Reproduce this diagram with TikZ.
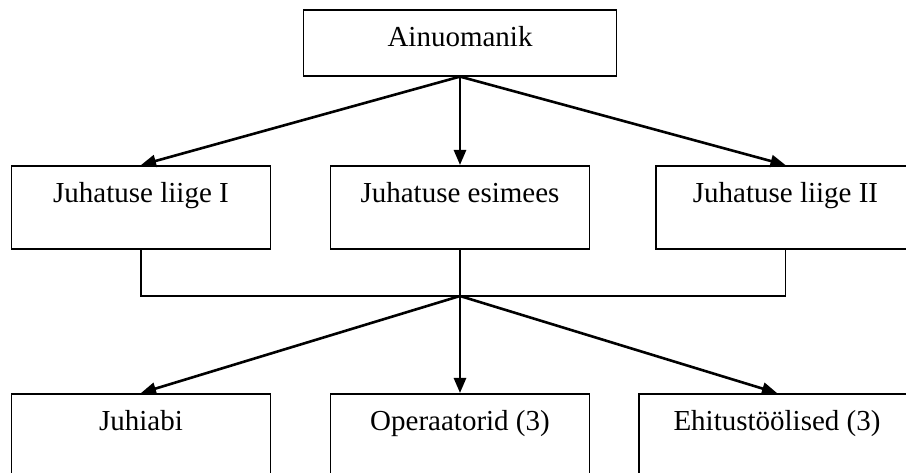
\documentclass[tikz,border=0pt]{standalone}
\usepackage{fontspec}
\setmainfont{Liberation Serif}
\usetikzlibrary{arrows.meta}

\begin{document}
\begin{tikzpicture}[x=1pt, y=-1pt,
    box/.style={draw, line width=1.6pt, inner sep=0pt, anchor=north,
      minimum width=259pt, text height=37pt, font=\fontsize{29}{34}\selectfont},
    arr/.style={-{Triangle[length=15pt,width=12pt]}, line width=2.6pt},
    link/.style={line width=1.3pt}]

  \clip (0, 0) rectangle (906, 473);

  \node[box, minimum width=313pt, text depth=29pt] (own) at (460, 9) {Ainuomanik};

  \node[box, text depth=46pt] (jl1) at (141, 165) {Juhatuse liige I};
  \node[box, text depth=46pt] (jes) at (460, 165) {Juhatuse esimees};
  \node[box, text depth=46pt] (jl2) at (785.5, 165) {Juhatuse liige II};

  \node[box, text depth=50pt] (abi) at (141, 393) {Juhiabi};
  \node[box, text depth=50pt] (ope) at (460, 393) {Operaatorid (3)};
  \node[box, minimum width=276pt, text depth=50pt] (ehi) at (777, 393) {Ehitustöölised (3)};

  \coordinate (hub) at (460, 296);

  \draw[arr] (own.south) -- (jl1.north);
  \draw[arr] (own.south) -- (jes.north);
  \draw[arr] (own.south) -- (jl2.north);

  \draw[link] (jl1.south) |- (hub) -| (jl2.south);
  \draw[link] (jes.south) -- (hub);

  \draw[arr] (hub) -- (abi.north);
  \draw[arr] (hub) -- (ope.north);
  \draw[arr] (hub) -- (ehi.north);

\end{tikzpicture}
\end{document}
